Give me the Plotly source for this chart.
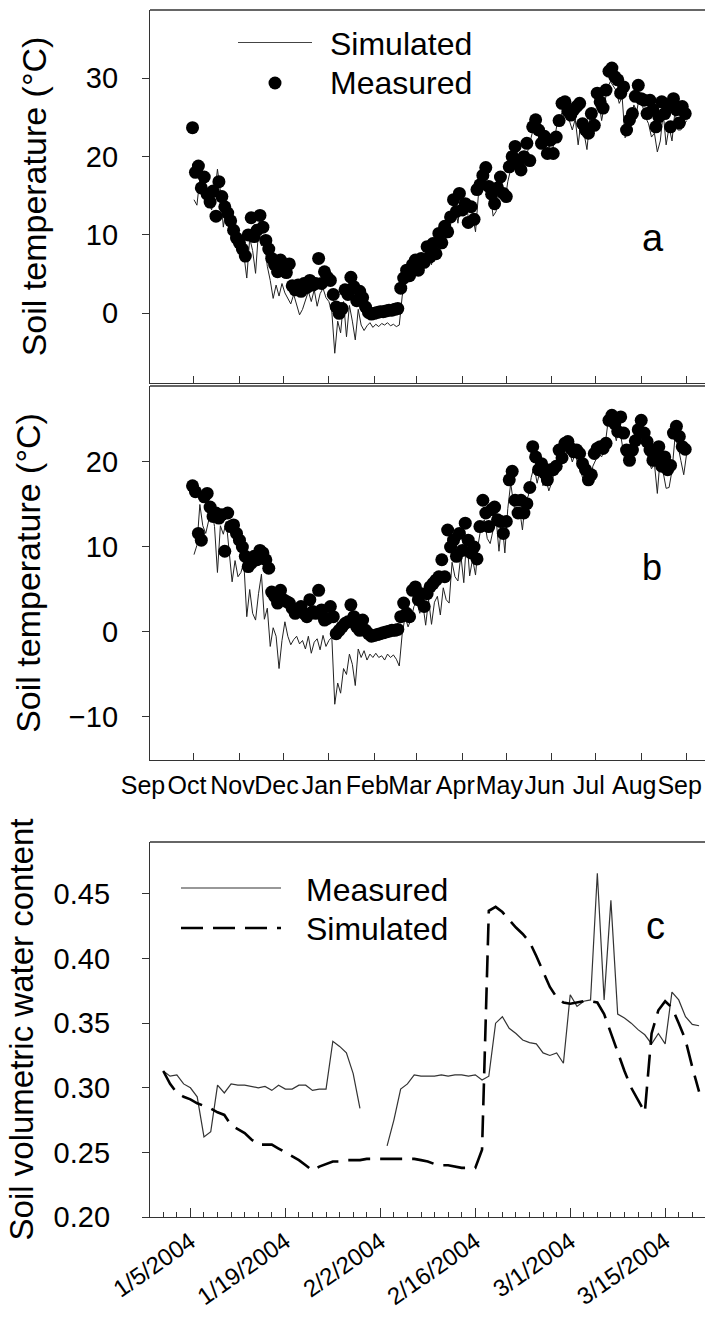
import plotly.graph_objects as go
import pandas as pd

W, H = 705, 1317
FONT = "Arial, Liberation Sans, sans-serif"

# ---------------- Panels a & b : soil temperature (deg C) ----------------
# measured, every 2 days starting 2003-09-30
meas_start = "2003-09-30"
meas_a = [
    23.7, 18.0, 18.8, 16.0, 17.4, 15.2, 14.2, 15.6, 12.4, 16.8, 14.9, 13.6, 12.8, 11.8, 10.6, 9.6,
    9.0, 8.2, 7.3, 10.0, 12.2, 9.8, 10.6, 12.5, 11.0, 9.3, 8.2, 7.0, 6.2, 5.3, 6.8,
    6.0, 5.2, 6.3, 3.5, 3.0, 3.6, 2.8, 3.8, 3.3, 4.2, 3.6, 3.8, 7.0, 3.8, 5.3, 4.6,
    4.2, 2.4, 0.8, 0.0, 0.6, 3.0, 2.4, 4.6, 3.4, 1.6, 2.8, 2.0, 0.8, 0.1, -0.1,
    0.0, 0.1, 0.2, 0.2, 0.3, 0.4, 0.4, 0.5, 0.6, 3.2, 4.5, 5.5, 4.8, 6.2, 6.8,
    5.5, 7.0, 6.5, 8.5, 7.2, 8.9, 7.6, 10.2, 9.0, 11.1, 10.4, 12.3, 14.5, 13.0, 15.3,
    13.2, 14.0, 11.6, 13.6, 12.0, 15.8, 16.4, 17.6, 18.6, 16.2, 15.2, 14.0, 16.0, 17.4, 15.3,
    14.9, 18.7, 20.0, 21.3, 19.1, 18.3, 20.0, 21.7, 19.5, 23.8, 24.7, 23.4, 21.7, 22.6, 20.4, 22.1,
    20.4, 22.5, 24.6, 26.8, 27.0, 25.8, 25.3, 26.0, 26.4, 26.8, 24.2, 23.4, 23.0, 25.5, 24.0,
    28.1, 27.0, 26.2, 28.5, 30.9, 31.3, 30.2, 29.8, 28.1, 28.9, 23.4, 24.7, 25.5, 27.7, 29.1,
    27.4, 27.2, 25.5, 27.2, 26.0, 23.8, 25.1, 27.0, 25.5, 26.5, 23.8, 27.4, 26.0, 24.3, 26.4, 25.5,
]
meas_b = [
    17.2, 16.5, 11.6, 10.8, 15.9, 16.3, 14.7, 13.6, 14.0, 13.4, 13.8, 9.5, 14.0, 12.4, 12.6, 11.6,
    10.8, 10.0, 8.9, 7.7, 8.1, 8.9, 8.5, 9.6, 9.3, 8.5, 7.5, 4.7, 4.2, 3.4, 4.9,
    3.8, 3.6, 3.4, 2.8, 2.2, 2.5, 3.0, 2.2, 1.8, 3.8, 2.4, 2.2, 4.9, 2.6, 1.4, 1.6,
    3.0, 1.8, -0.2, 0.2, 0.6, 1.0, 1.2, 3.2, 1.8, 0.6, 0.2, 1.4, 0.2, -0.2, -0.5,
    -0.4, -0.3, -0.2, -0.1, 0.0, 0.1, 0.2, 0.2, 0.3, 1.8, 3.4, 2.2, 1.8, 4.9, 5.3,
    3.8, 4.5, 3.0, 4.5, 5.3, 5.7, 6.1, 6.5, 8.5, 6.5, 12.0, 10.0, 10.8, 8.9, 11.6,
    9.6, 12.8, 10.8, 9.3, 10.0, 8.6, 12.4, 15.5, 14.0, 12.4, 14.4, 14.7, 13.2, 13.0, 11.6,
    13.0, 17.9, 18.9, 15.5, 14.0, 15.5, 14.0, 15.1, 17.0, 21.8, 20.6, 19.1, 19.8, 18.7, 17.9, 19.1,
    19.1, 19.5, 21.4, 20.5, 22.2, 22.4, 21.6, 21.2, 21.4, 21.0, 19.8, 19.1, 17.9, 18.5, 21.0,
    21.6, 21.8, 21.6, 22.2, 24.9, 25.5, 24.5, 23.6, 25.3, 23.4, 21.4, 20.2, 21.4, 22.5, 23.8,
    24.9, 23.4, 22.4, 21.4, 20.2, 20.5, 21.8, 19.5, 20.6, 19.1, 19.6, 23.4, 24.2, 23.0, 21.8, 21.5,
]
# simulated, every 2 days starting 2003-10-01
sim_start = "2003-10-01"
sim_a = [
    14.5, 13.8, 17.2, 16.0, 15.2, 14.3, 13.2, 15.0, 18.4, 15.6, 11.0, 13.4, 12.0, 10.5, 9.0, 9.8,
    8.2, 7.5, 4.5, 9.6, 8.0, 5.1, 10.5, 8.6, 9.2, 6.0, 4.2, 1.9, 3.6, 2.2, 3.8,
    2.6, 1.8, 1.2, 2.4, 1.0, -0.2, 0.5, 1.8, 2.8, 1.5, 3.0, 0.9, 2.5, 3.2, 2.0,
    1.5, 0.2, -5.1, -1.0, -2.5, 1.5, -3.0, 1.0, -1.0, -3.4, 0.5, -1.5, -2.2, -1.6, -1.2, -1.8,
    -1.4, -1.7, -1.3, -1.5, -1.2, -1.6, -1.4, -1.7, -1.5, 2.2, 4.0, 5.0, 4.2, 5.8,
    6.4, 5.0, 6.8, 6.0, 7.8, 6.2, 8.4, 7.0, 9.2, 9.8, 10.6, 10.0, 12.6, 13.8, 11.5, 14.6,
    12.4, 13.5, 11.2, 12.5, 10.4, 15.2, 16.8, 17.2, 16.5, 15.4, 12.4, 13.0, 15.8, 16.8, 14.2,
    16.8, 18.4, 19.6, 21.0, 18.6, 17.8, 19.5, 21.0, 22.5, 24.0, 23.6, 21.4, 22.6, 20.0, 21.6,
    20.2, 22.4, 24.6, 25.2, 26.0, 25.0, 24.6, 23.4, 24.8, 21.5, 24.6, 23.0, 20.9, 24.8, 23.0,
    26.0, 27.2, 24.6, 27.0, 28.8, 29.6, 29.0, 28.4, 26.8, 27.6, 22.4, 23.2, 25.0, 26.6, 25.8, 28.0,
    26.4, 25.0, 24.2, 22.5, 23.0, 20.6, 22.0, 25.6, 21.5, 23.8, 22.0, 25.8, 23.4, 23.4, 24.0,
    24.6,
]
sim_b = [
    9.1, 10.2, 15.0, 12.5, 11.6, 13.0, 14.6, 12.4, 7.0, 12.5, 11.5, 13.0, 9.5, 5.9, 8.4, 6.5,
    7.0, 8.2, 1.8, 5.0, 2.2, 1.4, 4.5, 6.8, 1.5, 2.8, -1.7, 0.5, -0.5, -4.3, -1.0,
    1.2, -0.5, -1.5, -0.9, -0.5, -1.4, -1.0, -2.0, -0.5, -2.5, -1.2, -0.8, -2.1, -0.4, -1.7,
    -1.0, -0.6, -8.5, -6.0, -7.2, -4.3, -5.0, -2.6, -3.8, -6.3, -2.0, -3.0, -2.2, -3.3, -2.6, -3.0,
    -2.5, -3.0, -2.8, -3.3, -2.6, -3.0, -2.7, -3.2, -4.0, -0.2, 1.8, 0.6, 1.5, 3.0,
    3.5, 2.2, 3.4, 0.8, 3.8, 0.9, 3.5, 4.2, 2.0, 5.2, 3.8, 3.4, 8.2, 6.5, 6.0, 9.0,
    5.8, 11.2, 6.6, 8.6, 6.7, 10.5, 12.6, 13.2, 11.0, 10.4, 12.0, 13.4, 9.5, 13.2, 9.3,
    14.5, 17.5, 15.0, 13.5, 14.5, 12.0, 15.5, 16.0, 18.2, 19.5, 17.5, 19.0, 17.2, 18.0, 16.6,
    17.6, 19.0, 20.5, 19.5, 21.4, 22.5, 21.2, 20.0, 21.0, 19.6, 18.8, 17.5, 18.6, 17.2, 19.5,
    20.2, 21.0, 20.6, 21.5, 24.2, 24.8, 24.0, 22.5, 24.2, 22.0, 20.0, 19.8, 21.2, 21.6, 23.0, 24.0,
    23.0, 21.5, 20.4, 19.2, 19.8, 16.3, 20.6, 18.5, 16.9, 17.0, 19.0, 22.8, 22.0, 20.2, 18.5,
    21.0,
]

# ---------------- Panel c : soil volumetric water content (daily from 2004-01-01) ----------------
c_start = "2004-01-01"
c_measured = [
    0.313, 0.309, 0.310, 0.303, 0.300, 0.293, 0.262, 0.266, 0.302, 0.296,
    0.303, 0.302, 0.302, 0.301, 0.300, 0.301, 0.298, 0.302, 0.299, 0.299,
    0.302, 0.302, 0.298, 0.299, 0.299, 0.336, 0.332, 0.327, 0.311, 0.284,
    None, None, None, 0.255, 0.275, 0.299, 0.303, 0.310, 0.309, 0.309,
    0.309, 0.310, 0.309, 0.310, 0.310, 0.309, 0.310, 0.306, 0.309, 0.350,
    0.355, 0.346, 0.342, 0.337, 0.335, 0.334, 0.327, 0.325, 0.327, 0.319,
    0.372, 0.363, 0.367, 0.368, 0.466, 0.368, 0.445, 0.357, 0.354, 0.350,
    0.345, 0.341, 0.334, 0.342, 0.334, 0.374, 0.368, 0.355, 0.349, 0.348,
]
c_simulated = [
    0.313, 0.303, 0.296, 0.293, 0.291, 0.288, 0.286, 0.284, 0.281, 0.279,
    0.271, 0.268, 0.265, 0.260, 0.256, 0.256, 0.256, 0.253, 0.250, 0.247,
    0.244, 0.240, 0.236, 0.239, 0.241, 0.243, 0.243, 0.244, 0.244, 0.244,
    0.245, 0.245, 0.245, 0.245, 0.245, 0.245, 0.245, 0.245, 0.244, 0.243,
    0.241, 0.240, 0.240, 0.239, 0.238, 0.238, 0.238, 0.252, 0.437, 0.440,
    0.436, 0.430, 0.424, 0.419, 0.413, 0.402, 0.390, 0.378, 0.370, 0.366,
    0.365, 0.366, 0.367, 0.367, 0.366, 0.357, 0.342, 0.327, 0.313, 0.300,
    0.290, 0.281, 0.342, 0.360, 0.367, 0.362, 0.350, 0.337, 0.316, 0.297,
]

meas_dates = pd.date_range(meas_start, periods=len(meas_a), freq="2D")
meas_dates_b = pd.date_range(meas_start, periods=len(meas_b), freq="2D")
sim_dates = pd.date_range(sim_start, periods=len(sim_a), freq="2D")
sim_dates_b = pd.date_range(sim_start, periods=len(sim_b), freq="2D")
c_dates = pd.date_range(c_start, periods=len(c_measured), freq="D")
c_dates_s = pd.date_range(c_start, periods=len(c_simulated), freq="D")


def px(x):
    return x / W


def py(y):
    return 1 - y / H


fig = go.Figure()
line_kw = dict(color="#222222", width=1)
mk = dict(color="black", size=13)

fig.add_trace(go.Scatter(x=sim_dates, y=sim_a, mode="lines", line=line_kw, xaxis="x", yaxis="y", name="Simulated"))
fig.add_trace(go.Scatter(x=meas_dates, y=meas_a, mode="markers", marker=mk, xaxis="x", yaxis="y", name="Measured"))
fig.add_trace(go.Scatter(x=sim_dates_b, y=sim_b, mode="lines", line=line_kw, xaxis="x2", yaxis="y2", name="Simulated"))
fig.add_trace(go.Scatter(x=meas_dates_b, y=meas_b, mode="markers", marker=mk, xaxis="x2", yaxis="y2", name="Measured"))
fig.add_trace(go.Scatter(x=c_dates, y=c_measured, mode="lines", line=dict(color="#333333", width=1.2),
                         connectgaps=False, xaxis="x3", yaxis="y3", name="Measured"))
fig.add_trace(go.Scatter(x=c_dates_s, y=c_simulated, mode="lines",
                         line=dict(color="black", width=2.6, dash="22px,10px"),
                         xaxis="x3", yaxis="y3", name="Simulated"))

AX = "#333333"
xdom = [px(150), 1.0]
tick_font = dict(family=FONT, size=29, color="black")
title_font = dict(family=FONT, size=34, color="black")

common_x = dict(domain=xdom, showline=True, linecolor=AX, linewidth=1.3, showgrid=False, zeroline=False,
                type="date", range=["2003-09-01", "2004-09-13 12:00"], tick0="2003-09-01", dtick="M1",
                ticks="inside", ticklen=7, tickcolor=AX, tickwidth=1.2, automargin=False)

fig.update_layout(
    width=W, height=H, margin=dict(l=0, r=0, t=0, b=0, autoexpand=False),
    paper_bgcolor="white", plot_bgcolor="white", showlegend=False,
    font=dict(family=FONT, color="black"),
    xaxis=dict(common_x, anchor="y", showticklabels=False),
    yaxis=dict(domain=[py(383), py(10)], range=[-8.9, 38.72], dtick=10, anchor="x", automargin=False,
               showline=True, linecolor=AX, linewidth=1.3, showgrid=False, zeroline=False,
               ticks="outside", ticklen=7, tickcolor=AX, tickfont=tick_font, ticklabelstandoff=18,
               title=dict(text="Soil temperature (°C)", font=title_font, standoff=28)),
    xaxis2=dict(common_x, anchor="y2", showticklabels=True, tickformat="%b", tickangle=0,
                ticklabeloverflow="allow", ticklabelshift=-7,
                tickfont=dict(family=FONT, size=25, color="black"), ticklabelstandoff=3),
    yaxis2=dict(domain=[py(760), py(386)], range=[-15.06, 28.94], dtick=10, anchor="x2", automargin=False,
                showline=True, linecolor=AX, linewidth=1.3, showgrid=False, zeroline=False,
                ticks="outside", ticklen=7, tickcolor=AX, tickfont=tick_font, ticklabelstandoff=18,
                title=dict(text="Soil temperature (°C)", font=title_font, standoff=17)),
    xaxis3=dict(domain=xdom, anchor="y3", type="date", range=["2003-12-30 01:00", "2004-03-20 21:00"],
                automargin=False, ticklabeloverflow="allow",
                showline=True, linecolor=AX, linewidth=1.3, showgrid=False, zeroline=False,
                tick0="2004-01-05", dtick=14 * 86400000, tickformat="%-m/%-d/%Y", tickangle=-35,
                ticks="inside", ticklen=9, tickcolor=AX, tickwidth=1.2,
                minor=dict(ticks="inside", ticklen=5, dtick=2 * 86400000, tick0="2004-01-05",
                           tickcolor=AX, showgrid=False),
                tickfont=dict(family=FONT, size=24, color="black"), ticklabelstandoff=0),
    yaxis3=dict(domain=[py(1217), py(842)], range=[0.2, 0.4902], dtick=0.05, tickformat=".2f", anchor="x3",
                automargin=False,
                showline=True, linecolor=AX, linewidth=1.3, showgrid=False, zeroline=False,
                ticks="outside", ticklen=7, tickcolor=AX,
                tickfont=dict(family=FONT, size=29, color="black"), ticklabelstandoff=26,
                title=dict(text="Soil volumetric water content", font=dict(family=FONT, size=33, color="black"),
                           standoff=10)),
)

shapes = [
    # top frame lines
    dict(type="line", xref="paper", yref="paper", x0=px(150), x1=1, y0=py(10), y1=py(10),
         line=dict(color=AX, width=1.3)),
    dict(type="line", xref="paper", yref="paper", x0=px(150), x1=1, y0=py(386), y1=py(386),
         line=dict(color=AX, width=1.3)),
    dict(type="line", xref="paper", yref="paper", x0=px(150), x1=1, y0=py(842), y1=py(842),
         line=dict(color=AX, width=1.3)),
    # legend samples panel a
    dict(type="line", xref="paper", yref="paper", x0=px(238), x1=px(312), y0=py(42.5), y1=py(42.5),
         line=dict(color="#444444", width=1.2)),
    dict(type="circle", xref="paper", yref="paper", x0=px(268.5), x1=px(281.5), y0=py(89.5), y1=py(76.5),
         fillcolor="black", line=dict(color="black", width=0)),
    # legend samples panel c
    dict(type="line", xref="paper", yref="paper", x0=px(181), x1=px(281), y0=py(888), y1=py(888),
         line=dict(color="#333333", width=1.2)),
    dict(type="line", xref="paper", yref="paper", x0=px(181), x1=px(281), y0=py(928), y1=py(928),
         line=dict(color="black", width=2.6, dash="22px,10px")),
]

def ann(text, x, y, size, xanchor="left"):
    return dict(text=text, x=px(x), y=py(y), xref="paper", yref="paper", showarrow=False,
                xanchor=xanchor, yanchor="middle", font=dict(family=FONT, size=size, color="black"))

annotations = [
    ann("Simulated", 328, 44, 32),
    ann("Measured", 328, 83, 32),
    ann("a", 653, 238, 38, "center"),
    ann("b", 652, 567, 36, "center"),
    ann("Measured", 304, 890, 32),
    ann("Simulated", 304, 929, 32),
    ann("c", 655, 926, 38, "center"),
]

fig.update_layout(shapes=shapes, annotations=annotations)
fig.write_html("out.html")
